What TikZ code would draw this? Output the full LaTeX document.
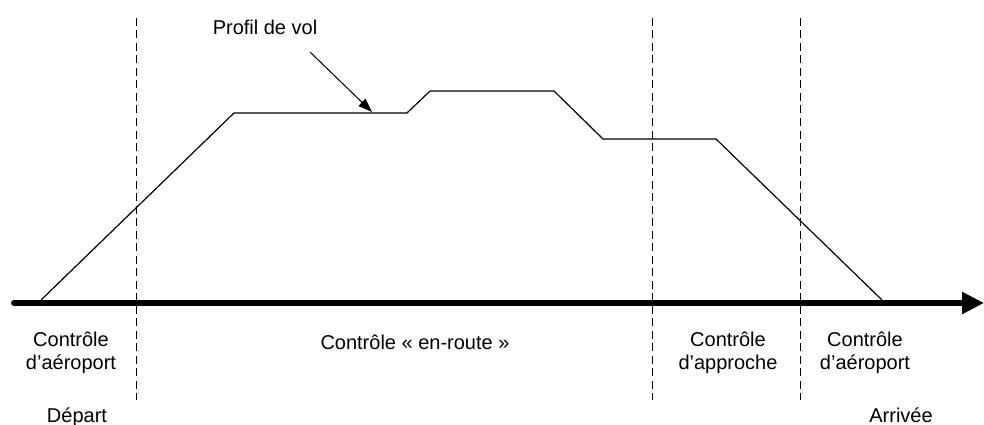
\documentclass[tikz,border=0pt]{standalone}
\usepackage{fontspec}
\setmainfont{Liberation Sans}
\usetikzlibrary{arrows.meta}
\begin{document}
\begin{tikzpicture}[x=1pt,y=-1pt,
  lbl/.style={font=\fontsize{20}{23}\selectfont, align=center, anchor=base, inner sep=0pt},
  divider/.style={line width=1pt, dash pattern=on 8pt off 4.5pt},
  profile/.style={line width=1.2pt, line join=miter},
  axisline/.style={line width=6pt, line cap=round, -{Triangle[length=22pt,width=21pt]}},
  pointer/.style={line width=1pt, -{Triangle[length=14pt,width=10pt]}},
]
\useasboundingbox (0,0) rectangle (984,425);
% axis
\coordinate (axL) at (14,303);
\coordinate (axR) at (984,303);
\draw[axisline] (axL) -- (axR);
% dividers
\draw[divider] (136,18) -- (136,400);
\draw[divider] (652,18) -- (652,400);
\draw[divider] (800,18) -- (800,400);
% flight profile
\draw[profile] (41,300) -- (234,113) -- (407,113) -- (430,91) -- (554,91) -- (603,139) -- (716,139) -- (882,300);
% labels
\node[lbl] (apt1) at (71,369) {Contrôle\\d’aéroport};
\node[lbl] (enroute) at (415,349) {Contrôle « en-route »};
\node[lbl] (appr) at (728,369) {Contrôle\\d’approche};
\node[lbl] (apt2) at (865,369) {Contrôle\\d’aéroport};
\node[lbl] (dep) at (77,422) {Départ};
\node[lbl] (arr) at (901,422) {Arrivée};
\node[lbl] (prof) at (265,35) {Profil de vol};
\coordinate (ps) at (310,52);
\coordinate (pe) at (372,112);
\draw[pointer] (ps) -- (pe);
\end{tikzpicture}
\end{document}
